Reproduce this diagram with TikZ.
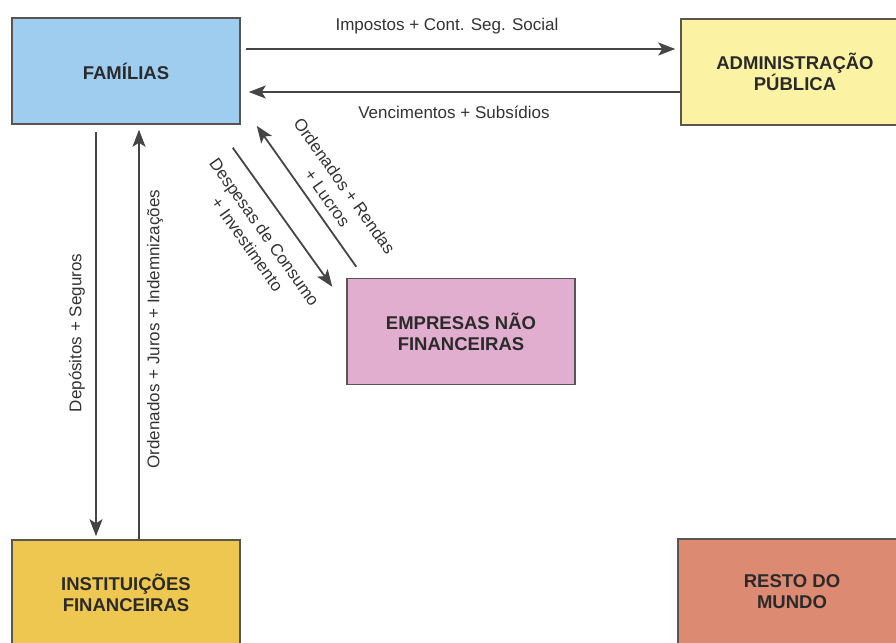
\documentclass[tikz,border=0pt]{standalone}
\usepackage{fontspec}
\setmainfont{Liberation Sans}
\usetikzlibrary{arrows.meta,calc}
\definecolor{famblue}{HTML}{9FCDEF}
\definecolor{admyellow}{HTML}{FBF3A3}
\definecolor{emppink}{HTML}{E2AECF}
\definecolor{instgold}{HTML}{EEC750}
\definecolor{restosalmon}{HTML}{DC8A72}
\definecolor{boxline}{HTML}{5A5550}
\definecolor{linec}{HTML}{454545}
\definecolor{txt}{HTML}{333333}
\definecolor{boxtxt}{HTML}{2A2A2A}
\begin{document}
\begin{tikzpicture}[x=1pt,y=-1pt,
  box/.style={draw=boxline, line width=1.5pt, minimum width=228pt, minimum height=106pt,
    inner sep=0pt, align=center, font=\fontsize{18.5}{21}\selectfont\bfseries, text=boxtxt},
  flow/.style={draw=linec, line width=1.8pt, -{Stealth[length=17pt,width=13pt,inset=4pt]}},
  lab/.style={font=\fontsize{17}{21}\selectfont, text=txt, inner sep=0pt, align=center}]
\useasboundingbox (0,0) rectangle (896,642);
% boxes
\node[box, fill=famblue] (fam) at (126,71) {FAMÍLIAS};
\node[box, fill=admyellow] (adm) at (795,72) {ADMINISTRAÇÃO\\PÚBLICA};
\node[box, fill=emppink] (emp) at (461,331.5) {EMPRESAS NÃO\\FINANCEIRAS};
\node[box, fill=instgold] (inst) at (126,593) {INSTITUIÇÕES\\FINANCEIRAS};
\node[box, fill=restosalmon] (resto) at (792,592) {RESTO DO\\MUNDO};
% horizontal flows
\draw[flow] ($(fam.east)+(5,-22)$) -- ($(adm.west)+(-5,-23)$);
\draw[flow] ($(adm.west)+(0,20)$) -- ($(fam.east)+(8,21)$);
% vertical flows
\draw[flow] ($(fam.south)+(-30,7)$) -- ($(inst.north)+(-30,-3)$);
\draw[flow] ($(inst.north)+(13,0)$) -- ($(fam.south)+(13,5)$);
% diagonal flows
\draw[flow] ($(fam.south east)+(-8,23)$) -- ($(emp.north west)+(-14,9)$);
\draw[flow] ($(emp.north west)+(10,-11)$) -- ($(fam.south east)+(16,1)$);
% labels
\node[lab] (l1) at (447,26) {Impostos + Cont. Seg. Social};
\node[lab] (l2) at (454,112) {Vencimentos + Subsídios};
\node[lab, rotate=90] (l3) at (77,333) {Depósitos + Seguros};
\node[lab, rotate=90] (l4) at (155,329) {Ordenados + Juros + Indemnizações};
\node[lab, rotate=-54.7] (l5) at (256,238) {Despesas de Consumo\\+ Investimento};
\node[lab, rotate=-54.7] (l6) at (336,192) {Ordenados + Rendas\\+ Lucros};
\end{tikzpicture}
\end{document}
